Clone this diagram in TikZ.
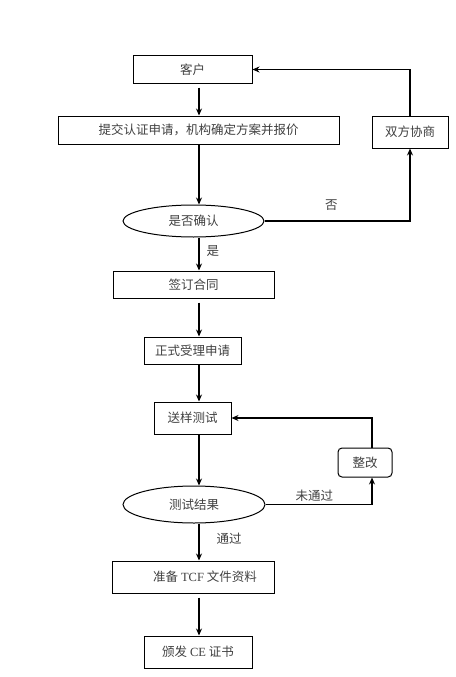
\documentclass[tikz,border=0pt]{standalone}
\usepackage{fontspec}
\setmainfont{Liberation Serif}
\newfontfamily\cjk{Noto Sans CJK SC}
\usetikzlibrary{arrows.meta,shapes.geometric}

\tikzset{
  stepbox/.style={draw,line width=1pt,inner sep=0pt,text=black!75},
  decide/.style={draw,ellipse,line width=1pt,inner sep=0pt,text=black!75},
  fixbox/.style={stepbox,rounded corners=4pt},
  arr/.style={-{Stealth[length=7pt,width=6pt]},line width=1.1pt},
  lbl/.style={text=black!75,inner sep=1pt}
}

\begin{document}
\begin{tikzpicture}[x=1pt,y=-1pt,font=\cjk\fontsize{12.5}{14}\selectfont]
    \useasboundingbox (0,0) rectangle (455,677);
    \coordinate (spine) at (199,0);
    \coordinate (fixline) at (372,0);
    % main flow
    \node[stepbox,minimum width=119pt,minimum height=27pt] (kehu) at (192.5,69.5) {客户};
    \node[stepbox,minimum width=281pt,minimum height=28pt] (tijiao) at (198.5,130) {提交认证申请，机构确定方案并报价};
    \node[stepbox,minimum width=76pt,minimum height=32pt] (xieshang) at (410,132) {双方协商};
    \node[decide,minimum width=141pt,minimum height=32pt] (queren) at (193.5,221) {是否确认};
    \node[stepbox,minimum width=161pt,minimum height=27pt] (hetong) at (193.5,284.5) {签订合同};
    \node[stepbox,minimum width=97pt,minimum height=27pt] (shouli) at (192.5,350.5) {正式受理申请};
    \node[stepbox,minimum width=77pt,minimum height=32pt] (ceshi) at (192.5,418) {送样测试};
    \node[decide,minimum width=142pt,minimum height=37pt] (jieguo) at (194,504.5) {测试结果};
    \node[fixbox,minimum width=54pt,minimum height=29pt] (zhenggai) at (365,462.5) {整改};
    \node[stepbox,minimum width=162pt,minimum height=32pt] (tcf) at (193,577) {\hspace*{24pt}准备 {\rmfamily TCF} 文件资料};
    \node[stepbox,minimum width=108pt,minimum height=32pt] (zhengshu) at (198,652) {颁发 {\rmfamily CE} 证书};
    % connectors
    \draw[arr,shorten <=4pt] (kehu.south -| spine) -- (tijiao.north -| spine);
    \draw[arr] (tijiao.south -| spine) -- (queren.north -| spine);
    \draw[arr] (queren.south -| spine) -- node[lbl,right=6pt,pos=0.4] (lblyes) {是} (hetong.north -| spine);
    \draw[arr,shorten <=4pt] (hetong.south -| spine) -- (shouli.north -| spine);
    \draw[arr] (shouli.south -| spine) -- (ceshi.north -| spine);
    \draw[arr] (ceshi.south -| spine) -- (jieguo.north -| spine);
    \draw[arr] (jieguo.south -| spine) -- node[lbl,right=16pt,pos=0.4] (lblpass) {通过} (tcf.north -| spine);
    \draw[arr,shorten <=4pt] (tcf.south -| spine) -- (zhengshu.north -| spine);
    % loops
    \draw[arr] (queren.east) -| node[lbl,above=9pt,pos=0.23] (lblno) {否} (xieshang.south);
    \draw[arr] (xieshang.north) |- (kehu.east);
    \draw[arr] (jieguo.east) -| node[lbl,above=1pt,pos=0.23] (lblfail) {未通过} (zhenggai.south -| fixline);
    \draw[arr] (zhenggai.north -| fixline) |- (ceshi.east);
\end{tikzpicture}
\end{document}
